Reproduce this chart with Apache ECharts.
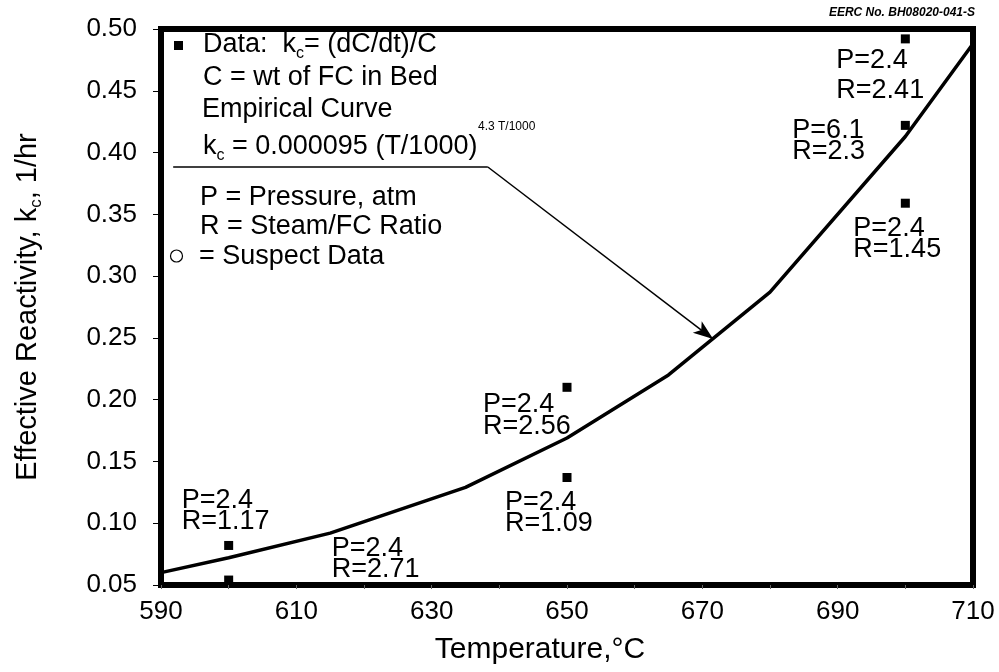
<!DOCTYPE html>
<html>
<head>
<meta charset="utf-8">
<script src="https://cdn.jsdelivr.net/npm/echarts@6/dist/echarts.min.js"></script>
<style>
  html, body { margin: 0; padding: 0; background: #fff; }
  #chart { width: 999px; height: 672px; }
</style>
</head>
<body>
<div id="chart"></div>
<script>
// Measured reactivity points (temperature in °C, k_c in 1/hr) with run conditions
const tempC = [600, 600, 650, 650, 700, 700, 700];
const reactivity = [0.082, 0.054, 0.210, 0.137, 0.492, 0.422, 0.359];
const pressureAtm = ['2.4', '2.4', '2.4', '2.4', '2.4', '6.1', '2.4'];
const steamRatio = ['1.17', '2.71', '2.56', '1.09', '2.41', '2.3', '1.45'];

// Empirical curve, traced as a polyline
const curveTemp = [590, 600, 615, 635, 650, 665, 680, 700, 710];
const curveK = [0.060, 0.072, 0.092, 0.129, 0.169, 0.220, 0.287, 0.413, 0.488];

// Tick labels
const xTickLabels = ['590', '610', '630', '650', '670', '690', '710'];
const yTickLabels = ['0.05', '0.10', '0.15', '0.20', '0.25', '0.30', '0.35', '0.40', '0.45', '0.50'];

// Leader from the equation underline to the curve (data space)
const leaderPath = [[591.8, 0.3883], [638.3, 0.3883], [671.6, 0.249]];

// Label placement for each point: pixel offset of the label block, line height
const labelLayout = [
  { dx: -47, dy: -34, lh: 21 },
  { dx: 103, dy: -21, lh: 21 },
  { dx: -84, dy: 28, lh: 22 },
  { dx: -62, dy: 36, lh: 21 },
  { dx: -69, dy: 37, lh: 30 },
  { dx: -113, dy: 16, lh: 21 },
  { dx: -52, dy: 36, lh: 21 }
];

const FONT = '"Liberation Sans", Arial, Helvetica, sans-serif';

const pointData = tempC.map((t, i) => ({
  value: [t, reactivity[i]],
  label: {
    show: true,
    position: 'inside',
    align: 'left',
    verticalAlign: 'middle',
    offset: [labelLayout[i].dx, labelLayout[i].dy],
    lineHeight: labelLayout[i].lh,
    formatter: 'P=' + pressureAtm[i] + '\nR=' + steamRatio[i],
    fontSize: 27,
    fontFamily: FONT,
    color: '#000',
    opacity: 1
  }
}));

const subRich = {
  sub: { fontSize: 16, lineHeight: 16, verticalAlign: 'bottom', fontFamily: FONT, fill: '#000', color: '#000' }
};

function legendText(x, y, text, extra) {
  return Object.assign({
    type: 'text',
    x: x,
    y: y,
    silent: true,
    style: {
      text: text,
      fontSize: 27,
      fontFamily: FONT,
      fill: '#000',
      align: 'left',
      verticalAlign: 'middle',
      lineHeight: 34,
      rich: subRich
    }
  }, extra || {});
}

const chart = echarts.init(document.getElementById('chart'), null, { renderer: 'canvas' });

const option = {
  animation: false,
  backgroundColor: '#fff',
  grid: {
    left: 161, right: 26, top: 29, bottom: 87,
    show: true, borderColor: '#000', borderWidth: 6, backgroundColor: 'transparent'
  },
  xAxis: {
    type: 'value',
    min: 590, max: 710, interval: 10,
    axisLine: { lineStyle: { color: '#000', width: 6 } },
    axisTick: { show: true, length: 4, lineStyle: { color: '#666', width: 1 } },
    splitLine: { show: false },
    axisLabel: {
      margin: 14, fontSize: 26, fontFamily: FONT, color: '#000',
      formatter: v => (xTickLabels.indexOf(String(v)) >= 0 ? String(v) : '')
    },
    name: 'Temperature,°C',
    nameLocation: 'middle',
    nameGap: 50,
    nameTextStyle: { fontSize: 30, fontFamily: FONT, color: '#000', padding: [0, 54, 0, 0] }
  },
  yAxis: {
    type: 'value',
    min: 0.05, max: 0.5, interval: 0.05,
    axisLine: { lineStyle: { color: '#000', width: 6 } },
    axisTick: { show: true, length: 8, lineStyle: { color: '#000', width: 1 } },
    splitLine: { show: false },
    axisLabel: {
      margin: 24, fontSize: 26, fontFamily: FONT, color: '#000',
      formatter: v => {
        const s = Number(v).toFixed(2);
        return yTickLabels.indexOf(s) >= 0 ? s : '';
      }
    },
    name: 'Effective Reactivity, k{sub|c}, 1/hr',
    nameLocation: 'middle',
    nameGap: 116,
    nameTextStyle: {
      fontSize: 29, fontFamily: FONT, color: '#000', lineHeight: 34,
      rich: { sub: { fontSize: 17, lineHeight: 17, verticalAlign: 'bottom', fontFamily: FONT, color: '#000' } }
    }
  },
  series: [
    {
      name: 'Empirical Curve',
      type: 'line',
      data: curveTemp.map((t, i) => [t, curveK[i]]),
      symbol: 'none',
      smooth: false,
      lineStyle: { color: '#000', width: 3.5 },
      z: 3,
      markLine: {
        silent: true,
        animation: false,
        label: { show: false },
        lineStyle: { color: '#000', width: 1.5, type: 'solid' },
        symbolSize: [11, 20],
        data: [
          [
            { coord: leaderPath[0], symbol: 'none' },
            { coord: leaderPath[1], symbol: 'none' }
          ],
          [
            { coord: leaderPath[1], symbol: 'none' },
            { coord: leaderPath[2], symbol: 'arrow' }
          ]
        ]
      }
    },
    {
      name: 'Data',
      type: 'scatter',
      data: pointData,
      symbol: 'rect',
      symbolSize: 9,
      itemStyle: { color: '#000', opacity: 1 },
      emphasis: { disabled: true },
      z: 4
    }
  ],
  graphic: [
    { type: 'rect', silent: true, shape: { x: 174, y: 41, width: 9, height: 9 }, style: { fill: '#000' } },
    legendText(203, 45, 'Data:  k{sub|c}= (dC/dt)/C'),
    legendText(203, 78, 'C = wt of FC in Bed'),
    legendText(202, 110, 'Empirical Curve'),
    legendText(203, 147, 'k{sub|c} = 0.000095 (T/1000)'),
    {
      type: 'text', x: 478, y: 127, silent: true,
      style: { text: '4.3 T/1000', fontSize: 12, fontFamily: FONT, fill: '#000', align: 'left', verticalAlign: 'middle' }
    },
    legendText(200, 198, 'P = Pressure, atm'),
    legendText(200, 227, 'R = Steam/FC Ratio'),
    { type: 'circle', silent: true, shape: { cx: 176.5, cy: 256, r: 6 }, style: { fill: 'none', stroke: '#000', lineWidth: 1.2 } },
    legendText(199, 257, '= Suspect Data'),
    {
      type: 'text', x: 975, y: 13, silent: true,
      style: {
        text: 'EERC No. BH08020-041-S', fontSize: 12, fontStyle: 'italic', fontWeight: 'bold',
        fontFamily: FONT, fill: '#000', align: 'right', verticalAlign: 'middle'
      }
    }
  ]
};

chart.setOption(option);
</script>
</body>
</html>
